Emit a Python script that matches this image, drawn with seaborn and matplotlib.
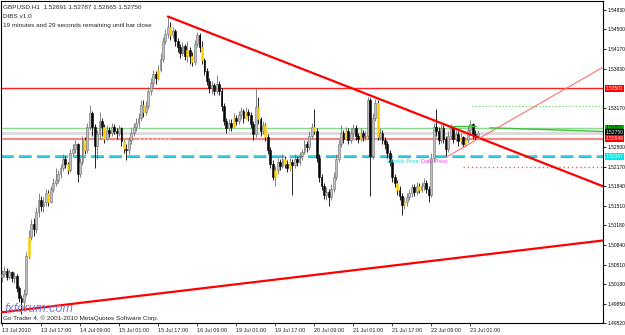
import matplotlib
matplotlib.use("Agg")
import matplotlib.pyplot as plt
import matplotlib.transforms as mtransforms
from matplotlib.patches import Rectangle
import pandas as pd
import seaborn as sns

# ---------------- data ----------------
first_open = 1.5030
closes = [1.5035, 1.5040, 1.5030, 1.5038, 1.5028, 1.5032, 1.5012, 1.4995, 1.4988, 1.5002,
          1.5065, 1.5098, 1.5120, 1.5112, 1.5140, 1.5160, 1.5150, 1.5158, 1.5172, 1.5158,
          1.5180, 1.5190, 1.5195, 1.5205, 1.5215, 1.5230, 1.5222, 1.5212, 1.5240, 1.5248,
          1.5255, 1.5205, 1.5225, 1.5262, 1.5245, 1.5285, 1.5308, 1.5285, 1.5252, 1.5272,
          1.5295, 1.5285, 1.5265, 1.5280, 1.5275, 1.5285, 1.5278, 1.5275, 1.5282, 1.5260,
          1.5248, 1.5245, 1.5262, 1.5275, 1.5285, 1.5292, 1.5300, 1.5322, 1.5310, 1.5320,
          1.5345, 1.5360, 1.5375, 1.5368, 1.5382, 1.5400, 1.5430, 1.5442, 1.5455, 1.5440,
          1.5448, 1.5430, 1.5420, 1.5410, 1.5422, 1.5405, 1.5415, 1.5405, 1.5395, 1.5425,
          1.5440, 1.5420, 1.5398, 1.5380, 1.5362, 1.5350, 1.5356, 1.5345, 1.5358, 1.5345,
          1.5320, 1.5295, 1.5282, 1.5292, 1.5285, 1.5300, 1.5295, 1.5305, 1.5312, 1.5300,
          1.5310, 1.5305, 1.5290, 1.5272, 1.5318, 1.5298, 1.5278, 1.5288, 1.5268, 1.5245,
          1.5222, 1.5200, 1.5212, 1.5225, 1.5218, 1.5230, 1.5222, 1.5215, 1.5225, 1.5220,
          1.5230, 1.5225, 1.5235, 1.5242, 1.5255, 1.5250, 1.5270, 1.5285, 1.5278, 1.5232,
          1.5200, 1.5185, 1.5170, 1.5175, 1.5165, 1.5180, 1.5200, 1.5230, 1.5255, 1.5275,
          1.5265, 1.5278, 1.5262, 1.5275, 1.5282, 1.5270, 1.5265, 1.5275, 1.5268, 1.5270,
          1.5330, 1.5235, 1.5300, 1.5325, 1.5268, 1.5275, 1.5262, 1.5255, 1.5240, 1.5225,
          1.5200, 1.5190, 1.5178, 1.5168, 1.5152, 1.5158, 1.5165, 1.5172, 1.5182, 1.5175,
          1.5185, 1.5178, 1.5185, 1.5190, 1.5180, 1.5170, 1.5232, 1.5285, 1.5278, 1.5262,
          1.5282, 1.5265, 1.5248, 1.5270, 1.5282, 1.5265, 1.5272, 1.5260, 1.5268, 1.5256,
          1.5262, 1.5280, 1.5290, 1.5272, 1.52691, 1.52750]
highs = [1.5042, 1.5048, 1.5045, 1.5044, 1.5040, 1.5038, 1.5035, 1.5015, 1.5000, 1.5010,
         1.5072, 1.5110, 1.5128, 1.5130, 1.5148, 1.5172, 1.5168, 1.5165, 1.5180, 1.5178,
         1.5185, 1.5198, 1.5215, 1.5212, 1.5222, 1.5238, 1.5235, 1.5225, 1.5248, 1.5255,
         1.5262, 1.5258, 1.5232, 1.5270, 1.5268, 1.5292, 1.5322, 1.5312, 1.5290, 1.5280,
         1.5310, 1.5300, 1.5290, 1.5288, 1.5285, 1.5292, 1.5290, 1.5282, 1.5288, 1.5285,
         1.5262, 1.5255, 1.5268, 1.5282, 1.5292, 1.5300, 1.5308, 1.5330, 1.5330, 1.5328,
         1.5352, 1.5368, 1.5382, 1.5380, 1.5390, 1.5410, 1.5438, 1.5450, 1.5472, 1.5462,
         1.5455, 1.5450, 1.5435, 1.5425, 1.5428, 1.5425, 1.5430, 1.5420, 1.5412, 1.5432,
         1.5446, 1.5444, 1.5430, 1.5402, 1.5385, 1.5368, 1.5362, 1.5360, 1.5372, 1.5362,
         1.5350, 1.5325, 1.5300, 1.5298, 1.5298, 1.5308, 1.5305, 1.5312, 1.5318, 1.5315,
         1.5318, 1.5315, 1.5310, 1.5295, 1.5350, 1.5335, 1.5302, 1.5295, 1.5292, 1.5272,
         1.5250, 1.5228, 1.5218, 1.5232, 1.5230, 1.5238, 1.5235, 1.5228, 1.5232, 1.5230,
         1.5238, 1.5235, 1.5242, 1.5248, 1.5262, 1.5260, 1.5278, 1.5292, 1.5315, 1.5282,
         1.5238, 1.5205, 1.5190, 1.5182, 1.5180, 1.5188, 1.5208, 1.5238, 1.5262, 1.5288,
         1.5280, 1.5285, 1.5282, 1.5282, 1.5290, 1.5288, 1.5275, 1.5282, 1.5280, 1.5278,
         1.5336, 1.5334, 1.5308, 1.5332, 1.5330, 1.5282, 1.5280, 1.5268, 1.5260, 1.5245,
         1.5230, 1.5205, 1.5195, 1.5185, 1.5172, 1.5165, 1.5172, 1.5180, 1.5188, 1.5188,
         1.5192, 1.5190, 1.5192, 1.5198, 1.5195, 1.5185, 1.5240, 1.5292, 1.5315, 1.5285,
         1.5290, 1.5288, 1.5270, 1.5278, 1.5290, 1.5285, 1.5280, 1.5278, 1.5275, 1.5270,
         1.5268, 1.5288, 1.5296, 1.5292, 1.5280, 1.52787]
lows = [1.5022, 1.5030, 1.5025, 1.5026, 1.5022, 1.5020, 1.5005, 1.4988, 1.4968, 1.4975,
        1.4998, 1.5060, 1.5092, 1.5100, 1.5105, 1.5132, 1.5142, 1.5140, 1.5150, 1.5150,
        1.5155, 1.5175, 1.5185, 1.5190, 1.5198, 1.5210, 1.5215, 1.5205, 1.5208, 1.5235,
        1.5240, 1.5192, 1.5200, 1.5220, 1.5238, 1.5240, 1.5280, 1.5270, 1.5215, 1.5230,
        1.5265, 1.5270, 1.5258, 1.5262, 1.5268, 1.5270, 1.5272, 1.5265, 1.5270, 1.5252,
        1.5240, 1.5228, 1.5238, 1.5255, 1.5270, 1.5278, 1.5285, 1.5295, 1.5302, 1.5305,
        1.5315, 1.5338, 1.5352, 1.5358, 1.5365, 1.5378, 1.5395, 1.5425, 1.5435, 1.5432,
        1.5435, 1.5422, 1.5412, 1.5402, 1.5405, 1.5398, 1.5395, 1.5392, 1.5388, 1.5390,
        1.5420, 1.5412, 1.5392, 1.5372, 1.5355, 1.5342, 1.5340, 1.5338, 1.5340, 1.5338,
        1.5312, 1.5288, 1.5275, 1.5278, 1.5278, 1.5282, 1.5288, 1.5290, 1.5298, 1.5292,
        1.5298, 1.5295, 1.5282, 1.5262, 1.5268, 1.5290, 1.5270, 1.5272, 1.5260, 1.5238,
        1.5215, 1.5195, 1.5185, 1.5205, 1.5212, 1.5215, 1.5215, 1.5208, 1.5210, 1.5170,
        1.5215, 1.5218, 1.5220, 1.5228, 1.5238, 1.5242, 1.5245, 1.5265, 1.5272, 1.5225,
        1.5192, 1.5178, 1.5162, 1.5160, 1.5150, 1.5160, 1.5175, 1.5195, 1.5225, 1.5250,
        1.5258, 1.5262, 1.5255, 1.5258, 1.5268, 1.5262, 1.5258, 1.5260, 1.5260, 1.5262,
        1.5265, 1.5168, 1.5230, 1.5295, 1.5262, 1.5262, 1.5255, 1.5248, 1.5232, 1.5218,
        1.5192, 1.5182, 1.5170, 1.5160, 1.5135, 1.5145, 1.5150, 1.5160, 1.5165, 1.5168,
        1.5170, 1.5172, 1.5175, 1.5178, 1.5172, 1.5158, 1.5165, 1.5225, 1.5270, 1.5255,
        1.5258, 1.5258, 1.5235, 1.5242, 1.5265, 1.5258, 1.5260, 1.5252, 1.5255, 1.5250,
        1.5250, 1.5258, 1.5275, 1.5265, 1.5262, 1.52665]
dibs_bars = [11, 19, 27, 34, 42, 50, 58, 64, 69, 76, 78, 82, 95, 100, 105, 108, 112,
             116, 118, 128, 141, 147, 154, 162, 165, 171, 188, 190]

time_labels = ["13 Jul 2010", "13 Jul 17:00", "14 Jul 09:00", "15 Jul 01:00", "15 Jul 17:00",
               "16 Jul 09:00", "19 Jul 01:00", "19 Jul 17:00", "20 Jul 09:00", "21 Jul 01:00",
               "21 Jul 17:00", "22 Jul 09:00", "23 Jul 01:00"]
time_label_bars = [0, 16, 32, 48, 64, 80, 96, 112, 128, 144, 160, 176, 192]
price_ticks = [1.54830, 1.54500, 1.54170, 1.53830, 1.53170, 1.52500, 1.52170, 1.51840,
               1.51510, 1.51180, 1.50840, 1.50510, 1.50180, 1.49850, 1.49520]

upper_trend_bars = [68, 246.4]
upper_trend_prices = [1.5472, 1.5184]
lower_trend_bars = [-0.5, 246.4]
lower_trend_prices = [1.4970, 1.5092]
fan_bars = [182.4, 246.0]
fan_prices = [1.5234, 1.5385]

resistance_level = 1.53501
green_level = 1.52831
bid_level = 1.52750
pink_level = 1.52649
weekly_pivot = 1.52347
daily_pivot = 1.52335
green_dotted_level = 1.5320
pink_dotted_level = 1.5217

box_labels = ["1.53501", "1.52831", "1.52750", "1.52649", "1.52347"]
box_prices = [1.53501, 1.52831, 1.52750, 1.52649, 1.52347]
box_colors = ["#ff0000", "#00c000", "#000000", "#ff0000", "#00e8e8"]
box_text_colors = ["white", "black", "white", "white", "white"]

# ---------------- figure ----------------
sns.set_style("white")
plt.rcParams["font.family"] = ["Liberation Sans", "DejaVu Sans"]

W, H = 625, 335
fig = plt.figure(figsize=(W / 100, H / 100), dpi=100)
ax = fig.add_axes([1 / W, (H - 323) / H, 602 / W, 322 / H])
ax.set_xlim(-0.4, 246.4)
ax.set_ylim(1.49522, 1.54983)

opens = [first_open] + closes[:-1]
bars = pd.DataFrame({"open": opens, "high": highs, "low": lows, "close": closes})
bars["bar"] = range(len(bars))

# horizontal levels (behind candles)
ax.axhline(resistance_level, color="#ff2020", lw=1.0, zorder=1)
ax.axhline(green_level, color="#8ad88a", lw=1.0, zorder=1)
ax.axhline(bid_level, color="#dcdcdc", lw=2.2, zorder=1)
ax.axhline(pink_level, color="#f28a8a", lw=1.6, zorder=1)
ax.axhline(daily_pivot, color="#e040e0", lw=1.3, ls=(0, (7, 3)), zorder=1)
ax.axhline(weekly_pivot, color="#20e0e8", lw=1.3, ls=(0, (7, 3)), zorder=1)
ax.hlines(green_dotted_level, 192.6, 246.4, color="#50d050", lw=0.8, ls=(0, (1, 2)), zorder=1)
ax.hlines(pink_dotted_level, 189, 246.4, color="#f06060", lw=1.0, ls=(0, (1, 2)), zorder=1)
ax.hlines(pink_level, 56, 69, color="white", lw=1.0, ls=(0, (1, 2)), zorder=1.5)

# candles
for row in bars.itertuples():
    up = row.close >= row.open
    wick_c = "#707070" if up else "#000000"
    ax.vlines(row.bar, row.low, row.high, color=wick_c, lw=0.6, zorder=3)
    lo, hi = min(row.open, row.close), max(row.open, row.close)
    if row.bar in dibs_bars:
        fc, ec = "#ffcc00", "#ffcc00"
    elif up:
        fc, ec = "#c0c0c0", "#707070"
    else:
        fc, ec = "#000000", "#000000"
    ax.add_patch(Rectangle((row.bar - 0.38, lo), 0.76, max(hi - lo, 0.00003),
                           facecolor=fc, edgecolor=ec, lw=0.4, zorder=4))

# trend lines
sns.lineplot(x=upper_trend_bars, y=upper_trend_prices, color="#ff0000", lw=1.6, ax=ax, zorder=5)
sns.lineplot(x=lower_trend_bars, y=lower_trend_prices, color="#ff0000", lw=1.6, ax=ax, zorder=5)
sns.lineplot(x=fan_bars, y=fan_prices, color="#ff7070", lw=0.8, ax=ax, zorder=5)
sns.lineplot(x=[200, 246.4], y=[green_level, 1.5277], color="#40c040", lw=1.0, ax=ax, zorder=5)
sns.lineplot(x=[185, 194.5], y=[1.5286, 1.5286], color="#40c040", lw=1.0, ax=ax, zorder=5)

# pivot labels
ax.text(157.7, 1.5226, "Weekly Pivot", color="#20d8e0", fontsize=4.0, va="center", ha="left", zorder=6)
ax.text(171.8, 1.5226, "Daily Pivot", color="#e040e0", fontsize=4.0, va="center", ha="left", zorder=6)

# axes styling
for s in ax.spines.values():
    s.set_color("#000000")
    s.set_linewidth(0.8)
ax.set_xticks(time_label_bars)
ax.set_xticklabels(time_labels)
for lab in ax.get_xticklabels():
    lab.set_ha("left")
ax.set_yticks(price_ticks)
ax.set_yticklabels([f"{p:.5f}" for p in price_ticks])
ax.yaxis.tick_right()
ax.tick_params(axis="y", right=True, left=False, labelright=True, labelleft=False,
               length=2.5, width=0.6, labelsize=3.5, pad=1.0, colors="#000000")
ax.tick_params(axis="x", bottom=True, length=2.5, width=0.6, labelsize=4.0, pad=1.0)
ax.set_xlabel("")
ax.set_ylabel("")
ax.grid(False)

# coloured price boxes on the right scale
blend = mtransforms.blended_transform_factory(ax.transAxes, ax.transData)
for lab, p, bc, tc in zip(box_labels, box_prices, box_colors, box_text_colors):
    ax.text(1.004, p, lab, transform=blend, fontsize=3.5, color=tc, va="center", ha="left",
            bbox=dict(boxstyle="square,pad=0.15", fc=bc, ec="none"), zorder=10, clip_on=False)

# header texts
fig.text(3 / W, 1 - 7 / H, "GBPUSD,H1  1.52691 1.52787 1.52665 1.52750", fontsize=4.6, va="center", ha="left")
fig.text(3 / W, 1 - 16 / H, "DIBS v1.0", fontsize=4.6, va="center", ha="left")
fig.text(3 / W, 1 - 25 / H, "19 minutes and 29 seconds remaining until bar close", fontsize=4.6, va="center", ha="left")
fig.text(3 / W, 1 - 318 / H, "Go Trader 4, \u00a9 2001-2010 MetaQuotes Software Corp.", fontsize=4.6, va="center", ha="left")
fig.text(5 / W, 1 - 309 / H, "fxforum.com", fontsize=9, style="italic", color="#7080e0", va="center", ha="left")

fig.savefig("out.png", dpi=100)
